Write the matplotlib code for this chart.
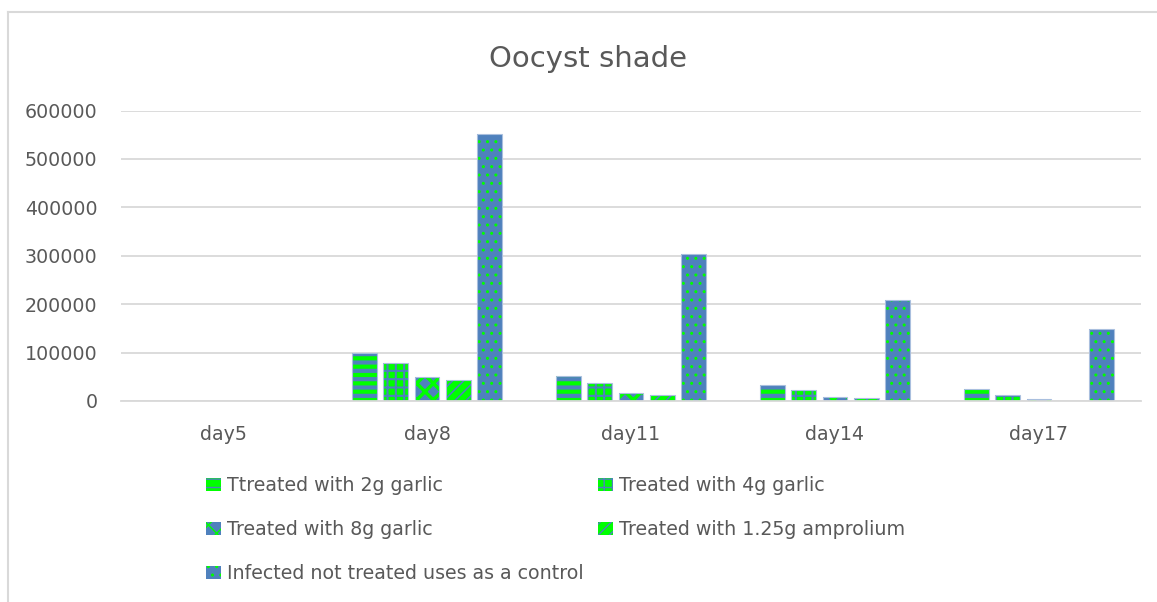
import numpy as np
import matplotlib
matplotlib.use("Agg")
import matplotlib.pyplot as plt
from matplotlib.lines import Line2D
from matplotlib.ticker import FuncFormatter

# data
days = ["day5", "day8", "day11", "day14", "day17"]
series_names = ["Ttreated with 2g garlic", "Treated with 4g garlic",
                "Treated with 8g garlic", "Treated with 1.25g amprolium",
                "Infected not treated uses as a control"]
garlic_2g = [0, 98500, 51500, 33500, 24500]
garlic_4g = [0, 78000, 38000, 22500, 12500]
garlic_8g = [0, 49000, 15500, 9000, 4000]
amprolium = [0, 43500, 11500, 7000, 0]
control = [0, 551000, 304000, 208000, 149000]
y_ticks = [0, 100000, 200000, 300000, 400000, 500000, 600000]

BLUE = "#4F81BD"
GREEN = "#00FF00"
GREY_TXT = "#595959"
GRID = "#D9D9D9"

# (face, hatch colour, hatch, hatch linewidth)
styles = [
    (GREEN, BLUE, "--", 3.0),
    (GREEN, BLUE, "++", 1.5),
    (BLUE, GREEN, "xx", 2.5),
    (GREEN, BLUE, "///", 1.2),
    (BLUE, GREEN, "..", 1.0),
]

W, H = 1157, 602
fig = plt.figure(figsize=(W / 100, H / 100), dpi=100)
ax = fig.add_axes([121 / W, 1 - 401 / H, 1020 / W, 290.5 / H])

values = [garlic_2g, garlic_4g, garlic_8g, amprolium, control]
x = np.arange(len(days))
step = 0.1534
width = 0.1225
handles = []
for i, (vals, (fc, hc, hatch, hlw)) in enumerate(zip(values, styles)):
    pos = x + (i - 2) * step
    bars = ax.bar(pos, vals, width, color=fc, edgecolor=hc, hatch=hatch,
                  linewidth=0, zorder=3, label=series_names[i])
    for b in bars:
        if hasattr(b, "set_hatch_linewidth"):
            b.set_hatch_linewidth(hlw)
    # light outline round each bar
    ax.bar(pos, vals, width, facecolor="none", edgecolor="#A9BFDE",
           linewidth=0.8, zorder=4)
    handles.append(bars)

ax.set_xlim(-0.5, len(days) - 0.5)
ax.set_ylim(0, 600000)
ax.set_xticks(x)
ax.set_xticklabels(days)
ax.set_yticks(y_ticks)
ax.yaxis.set_major_formatter(FuncFormatter(lambda v, p: f"{int(v)}"))
ax.yaxis.grid(True, color=GRID, linewidth=1.3, zorder=0)
for s in ["left", "right", "top"]:
    ax.spines[s].set_visible(False)
ax.spines["bottom"].set_color(GRID)
ax.spines["bottom"].set_linewidth(1.3)
ax.spines["bottom"].set_zorder(5)
ax.tick_params(axis="both", length=0, labelsize=13.7, colors=GREY_TXT)
ax.tick_params(axis="y", pad=17)
ax.tick_params(axis="x", pad=17)

fig.text(588 / W, 1 - 67 / H, "Oocyst shade", ha="center", va="baseline",
         fontsize=21, color=GREY_TXT)

# legend, row-major like the original -> reorder for column filling
order = [0, 2, 4, 1, 3]
leg = fig.legend([handles[i] for i in order], [series_names[i] for i in order],
                 ncol=2, loc="upper left", bbox_to_anchor=(206 / W, 1 - 476 / H),
                 frameon=False, fontsize=13.7, labelcolor=GREY_TXT,
                 handlelength=0.79, handleheight=0.68, handletextpad=0.3,
                 labelspacing=1.32, columnspacing=0.76, borderpad=0, borderaxespad=0)

# chart border (cut off on the right and bottom)
fig.add_artist(Line2D([8 / W, 8 / W], [0, 1 - 12 / H], color=GRID, lw=1.5))
fig.add_artist(Line2D([8 / W, 1], [1 - 12 / H, 1 - 12 / H], color=GRID, lw=1.5))

fig.savefig("out.png", dpi=100)
